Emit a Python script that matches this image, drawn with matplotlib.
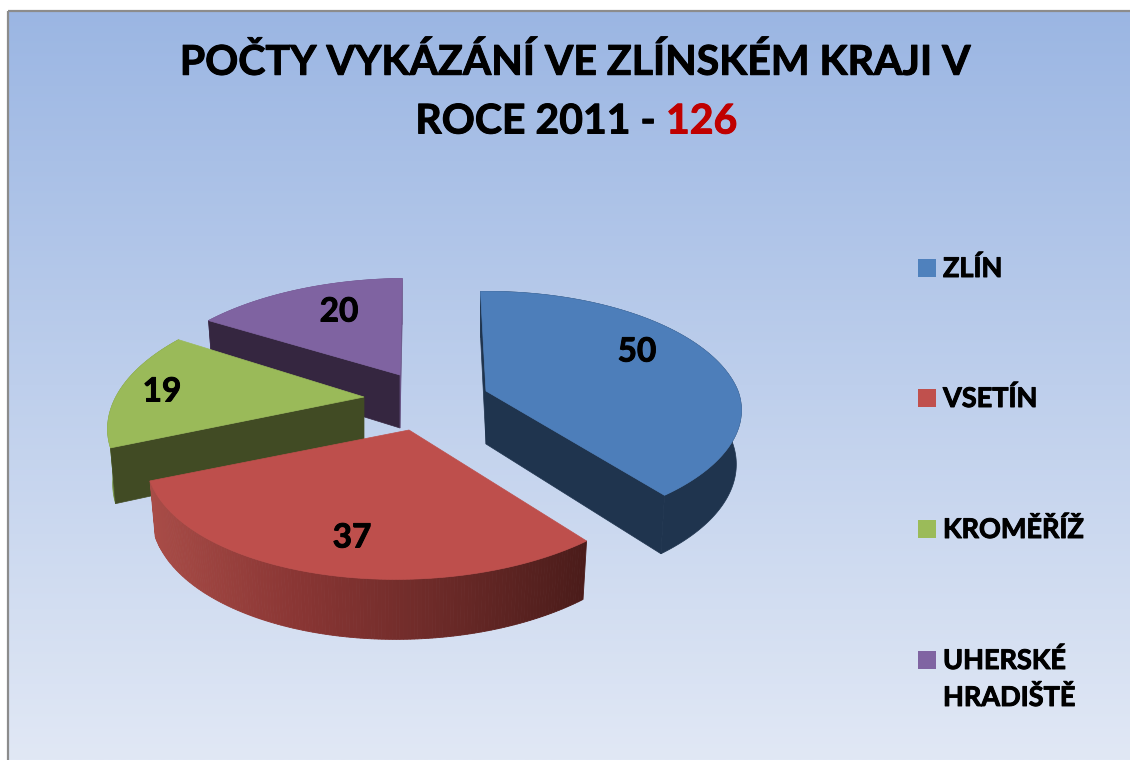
import numpy as np
import matplotlib
matplotlib.use("Agg")
import matplotlib.pyplot as plt
import matplotlib.patheffects as pe
from matplotlib.patches import Polygon, Rectangle
from matplotlib.colors import LinearSegmentedColormap

# Data
categories = ["ZLÍN", "VSETÍN", "KROMĚŘÍŽ", "UHERSKÉ\nHRADIŠTĚ"]
values = [50, 37, 19, 20]
total = 126
title_line1 = "POČTY VYKÁZÁNÍ VE ZLÍNSKÉM KRAJI V"
title_line2 = "ROCE 2011 -"

# Styles
top_colors = ["#4D7EBA", "#BE4F4C", "#9ABA59", "#7F63A1"]
legend_colors = ["#4F81BD", "#C0504D", "#9BBB59", "#8064A2"]
cut_colors = ["#1F344E", "#4C1D1B", "#414B24", "#352640"]
rim_colors = ["#1F344E", None, "#71903F", "#6A5486"]
apexes = [(486, 391), (409, 430), (364, 397), (400, 375)]
label_xy = [(637, 352), (352, 538), (162, 392), (339, 312)]
legend_y = [268, 398, 529, 660]
START = -1.5
RX, RY, K = 252.0, 121.0, 0.19
lower_shear = [-0.06, -0.09, -0.13, -0.13]
upper_shear = [0.0, -0.13, -0.13, -0.08]
lower_ry = [0.94, 1.0, 1.0, 1.0]
upper_ry = [0.98, 1.0, 1.0, 0.95]
rx_scale = [1.0, 1.015, 0.985, 1.0]

plt.rcParams["font.family"] = ["Lato", "DejaVu Sans"]
plt.rcParams["font.weight"] = "bold"

fig = plt.figure(figsize=(11.3, 7.6), dpi=100, facecolor="white")
ax = fig.add_axes([0, 0, 1, 1])

# Background
bg = LinearSegmentedColormap.from_list("bg", ["#9BB6E3", "#E1E8F5"])
ax.imshow(np.linspace(0, 1, 256)[:, None], cmap=bg, extent=[8, 1130, 760, 10],
          aspect="auto", zorder=0, interpolation="bilinear")
ax.set_xlim(0, 1130)
ax.set_ylim(760, 0)
ax.axis("off")
ax.plot([8, 8], [760, 11], color="#8C8C8C", lw=1.6, zorder=1, solid_capstyle="butt")
ax.plot([8, 1130], [11, 11], color="#8C8C8C", lw=1.6, zorder=1, solid_capstyle="butt")


def project(theta_deg, i, level):
    """Project a rim point of slice i; level 0 is the top face, 1 the bottom."""
    t = np.radians(theta_deg)
    u, v = np.sin(t), np.cos(t)
    s = 1.0 / (1.0 + K * v)
    y = -RY * v * s
    y = np.where(y < 0, y * upper_ry[i], y * lower_ry[i])
    x = RX * rx_scale[i] * u * s + np.where(y < 0, upper_shear[i], lower_shear[i]) * y
    if level:
        x = x * 0.98
        y = y + 53 - 7 * v
    return np.column_stack([apexes[i][0] + x, apexes[i][1] + y])


def face(points, color, lw=0.5):
    ax.add_patch(Polygon(points, closed=True, fc=color, ec=color, lw=lw, zorder=2))


bold = [pe.withStroke(linewidth=0.7, foreground="black")]
bold_red = [pe.withStroke(linewidth=0.7, foreground="#C00000")]

edges = START + np.concatenate([[0], np.cumsum(values)]) / np.sum(values) * 360.0
red_side = LinearSegmentedColormap.from_list("rs", ["#A84C47", "#8A3634", "#6C2A28", "#4B1C1A"])

for i in [3, 0, 2, 1]:
    th = np.linspace(edges[i], edges[i + 1], 160)
    apex = apexes[i]
    top = project(th, i, 0)
    bot = project(th, i, 1)
    apex_bot = (apex[0], apex[1] + 53)
    # rim wall
    if i == 1:
        xmin, xmax = top[:, 0].min(), top[:, 0].max()
        for j in range(len(th) - 1):
            c = red_side((top[j, 0] - xmin) / (xmax - xmin))
            face([top[j], top[j + 1], bot[j + 1], bot[j]], c, 0.6)
    else:
        face(np.vstack([top, bot[::-1]]), rim_colors[i])
    # radial cut wall facing the viewer
    if i == 0:
        face([apex, top[-1], bot[-1], apex_bot], cut_colors[i])
        face([apex, top[0], bot[0], apex_bot], cut_colors[i])
    elif i == 2:
        face([apex, top[0], bot[0], apex_bot], cut_colors[i])
    elif i == 3:
        face([apex, top[0], bot[0], apex_bot], cut_colors[i])
        face([apex, top[-1], bot[-1], apex_bot], rim_colors[i])
    # top face
    face(np.vstack([[apex], top]), top_colors[i])
    ax.text(label_xy[i][0], label_xy[i][1], str(values[i]), ha="center", va="center",
            fontsize=24, color="black", zorder=5, path_effects=bold)

# Title
ax.text(575, 63, title_line1, ha="center", va="center", fontsize=29.5, color="black",
        zorder=6, path_effects=bold)
ax.text(656, 122, title_line2, ha="right", va="center", fontsize=29.5, color="black",
        zorder=6, path_effects=bold)
ax.text(666, 122, str(total), ha="left", va="center", fontsize=29.5, color="#C00000",
        zorder=6, path_effects=bold_red)

# Legend
for name, col, y in zip(categories, legend_colors, legend_y):
    ax.add_patch(Rectangle((918, y - 9), 18, 18, fc=col, ec="none", zorder=6))
    ax.text(943, y - 12, name, ha="left", va="top", fontsize=19.5, color="black",
            zorder=6, linespacing=1.57, path_effects=bold)

fig.savefig("out.png", dpi=100, facecolor="white")
